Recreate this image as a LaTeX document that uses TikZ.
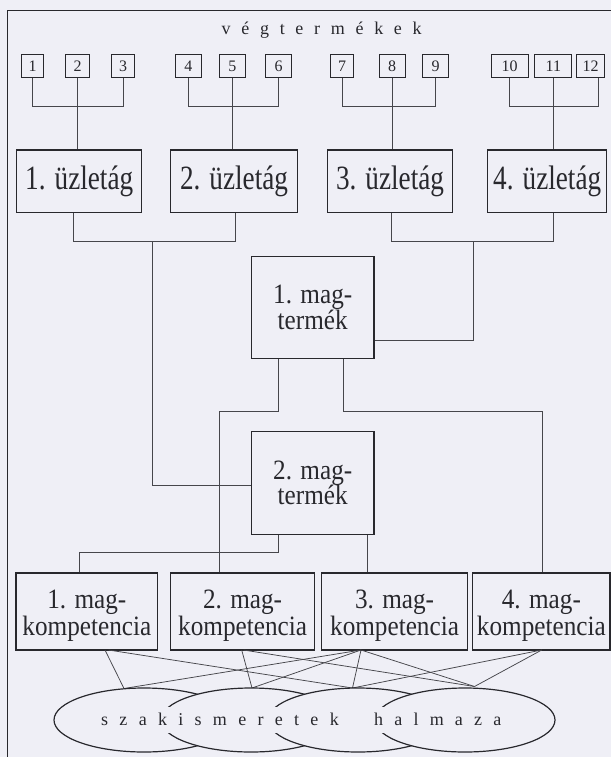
\documentclass[tikz,border=0pt]{standalone}
\usepackage{fontspec}
\setmainfont{Liberation Serif}
\newfontfamily\branchfont[FakeStretch=0.8]{Liberation Serif}
\newfontfamily\corefont[FakeStretch=0.9]{Liberation Serif}
\usetikzlibrary{shapes.geometric,calc}
\definecolor{paper}{RGB}{239,239,246}
\definecolor{ink}{RGB}{40,40,45}
\definecolor{wire}{RGB}{70,70,75}

% set a word with a fixed gap after every letter
\newcommand\spreadtext[2]{\def\spgap{#1}\spreadloop#2\relax}
\def\spreadloop#1{\ifx#1\relax\else#1\hspace{\spgap}\expandafter\spreadloop\fi}
% invisible prop that pushes the text of a competence box down
\newcommand\lowprop{\rule{0pt}{27pt}}

\tikzset{
  numbox/.style={draw=ink, line width=1pt, minimum height=23pt, inner sep=0pt,
    text=ink, font=\fontsize{16}{16}\selectfont},
  branchbox/.style={draw=ink, line width=1.2pt, inner sep=0pt, minimum height=62.7pt,
    text=ink, font=\branchfont\fontsize{34}{34}\selectfont},
  corebox/.style={draw=ink, line width=1.2pt, inner sep=0pt, align=center,
    text=ink, font=\corefont\fontsize{28}{21}\selectfont},
  wire/.style={draw=wire, line width=0.75pt},
  blob/.style={ellipse, draw=ink, line width=1.2pt, fill=paper,
    minimum width=180pt, minimum height=64pt, inner sep=0pt},
  spaced/.style={anchor=base west, inner sep=0pt, text=ink}
}

\begin{document}
\begin{tikzpicture}[x=1pt, y=-1pt, line join=miter]
\fill[paper] (0,0) rectangle (611,757);
\useasboundingbox (0,0) rectangle (611,757);

% frame
\draw[ink, line width=1pt] (7.5,757) -- (7.5,11) -- (611,11);

% title
\node[spaced, font=\fontsize{18}{18}\selectfont] (title) at (221.5,34.7)
  {\spreadtext{10.7pt}{végtermékek}};

% end products
\node[numbox, minimum width=22pt] (n1)  at (32.5,66.5)  {1};
\node[numbox, minimum width=24pt] (n2)  at (77.5,66.5)  {2};
\node[numbox, minimum width=23pt] (n3)  at (123,66.5)   {3};
\node[numbox, minimum width=26pt] (n4)  at (188.3,66.5) {4};
\node[numbox, minimum width=26pt] (n5)  at (232.3,66.5) {5};
\node[numbox, minimum width=26pt] (n6)  at (278.7,66.5) {6};
\node[numbox, minimum width=23pt] (n7)  at (342,66.5)   {7};
\node[numbox, minimum width=26pt] (n8)  at (392,66.5)   {8};
\node[numbox, minimum width=26pt] (n9)  at (435.5,66.5) {9};
\node[numbox, minimum width=37pt] (n10) at (509.7,66.5) {10};
\node[numbox, minimum width=37pt] (n11) at (553.3,66.5) {11};
\node[numbox, minimum width=28pt] (n12) at (590.5,66.5) {12};

% business units
\node[branchbox, minimum width=125pt]   (u1) at (79.2,181.4) {1. üzletág};
\node[branchbox, minimum width=126.6pt] (u2) at (234,181.4)  {2. üzletág};
\node[branchbox, minimum width=124.6pt] (u3) at (390,181.4)  {3. üzletág};
\node[branchbox, minimum width=119pt]   (u4) at (547.2,181.4){4. üzletág};

% core products
\node[corebox, minimum width=122.6pt, minimum height=101.6pt] (m1) at (312.7,307.5)
  {1. mag-\\[-1pt]termék};
\node[corebox, minimum width=122.6pt, minimum height=102.6pt] (m2) at (312.7,483)
  {2. mag-\\[-1pt]termék};

% core competences
\node[corebox, minimum width=141.7pt, minimum height=77pt] (k1) at (86.85,611.5)
  {\lowprop 1. mag-\\kompetencia};
\node[corebox, minimum width=143.8pt, minimum height=77pt] (k2) at (242.6,611.5)
  {\lowprop 2. mag-\\kompetencia};
\node[corebox, minimum width=146pt, minimum height=77pt] (k3) at (394.55,611.5)
  {\lowprop 3. mag-\\kompetencia};
\node[corebox, minimum width=137.3pt, minimum height=77pt] (k4) at (541.35,611.5)
  {\lowprop 4. mag-\\kompetencia};

% products -> business units
\coordinate (r) at (0,106);
\coordinate (r4) at (598,106);
\draw[wire] (n1.south) -- (n1.south |- r) -- (n3.south |- r) -- (n3.south);
\draw[wire] (n2.south) -- (n2.south |- u1.north);
\draw[wire] (n4.south) -- (n4.south |- r) -- (n6.south |- r) -- (n6.south);
\draw[wire] (n5.south) -- (n5.south |- u2.north);
\draw[wire] (n7.south) -- (n7.south |- r) -- (n9.south |- r) -- (n9.south);
\draw[wire] (n8.south) -- (n8.south |- u3.north);
\draw[wire] (n10.south) -- (n10.south |- r) -- (r4) -- (r4 |- n12.south);
\draw[wire] (n11.south) -- (n11.south |- u4.north);

% business units -> core products
\coordinate (a1) at (73,241.7);
\coordinate (a2) at (235.5,241.7);
\coordinate (a3) at (152,241.7);
\coordinate (a4) at (152,485);
\draw[wire] (a1 |- u1.south) -- (a1) -- (a2) -- (a2 |- u2.south);
\draw[wire] (a3) -- (a4) -- (a4 -| m2.west);
\coordinate (b1) at (391,241.7);
\coordinate (b2) at (553.3,241.7);
\coordinate (b3) at (473.5,241.7);
\coordinate (b4) at (473.5,340.7);
\draw[wire] (b1 |- u3.south) -- (b1) -- (b2) -- (b2 |- u4.south);
\draw[wire] (b3) -- (b4) -- (b4 -| m1.east);

% core products -> core competences
\coordinate (c1) at (278.6,411.7);
\coordinate (c2) at (343,411.7);
\coordinate (c3) at (219.4,411.7);
\coordinate (c4) at (542.5,411.7);
\draw[wire] (c1 |- m1.south) -- (c1) -- (c3) -- (c3 |- k2.north);
\draw[wire] (c2 |- m1.south) -- (c2) -- (c4) -- (c4 |- k4.north);
\coordinate (e1) at (278.6,552.7);
\coordinate (e2) at (79,552.7);
\coordinate (e3) at (367.1,552.7);
\draw[wire] (e1 |- m2.south) -- (e1) -- (e2) -- (e2 |- k1.north);
\draw[wire] (e3 |- m2.south) -- (e3 |- k3.north);

% competences -> knowledge sets
\coordinate (s1a) at (105,650);
\coordinate (s1b) at (108.5,650);
\coordinate (s2a) at (241.7,650);
\coordinate (s2b) at (243.5,650);
\coordinate (s3)  at (361,650);
\coordinate (s4)  at (541.7,650);
\coordinate (p1) at (124,688.5);
\coordinate (p2) at (252,688);
\coordinate (p3) at (352.5,688);
\coordinate (p4) at (474.5,686.5);
\draw[wire] (s1a) -- (p1);
\draw[wire] (s1b) -- (p3);
\draw[wire] (s2a) -- (p2);
\draw[wire] (s2b) -- (p4);
\draw[wire] (s3) -- (p1);
\draw[wire] (s3) -- (p2);
\draw[wire] (s3) -- (p3);
\draw[wire] (s3) -- (p4);
\draw[wire] (s4) -- (p3);
\draw[wire] (s4) -- (p4);

% overlapping sets of expertise
\node[blob] (e1set) at (144,720) {};
\node[blob] (e2set) at (251,720) {};
\node[blob] (e3set) at (358,720) {};
\node[blob] (e4set) at (465,720) {};
\fill[paper] (95,707) rectangle (508,733);
\node[spaced, font=\fontsize{18}{18}\selectfont] (w1) at (101,725)
  {\spreadtext{11.3pt}{szakismeretek}};
\node[spaced, font=\fontsize{18}{18}\selectfont] (w2) at (374,725)
  {\spreadtext{11.2pt}{halmaza}};
\end{tikzpicture}
\end{document}
